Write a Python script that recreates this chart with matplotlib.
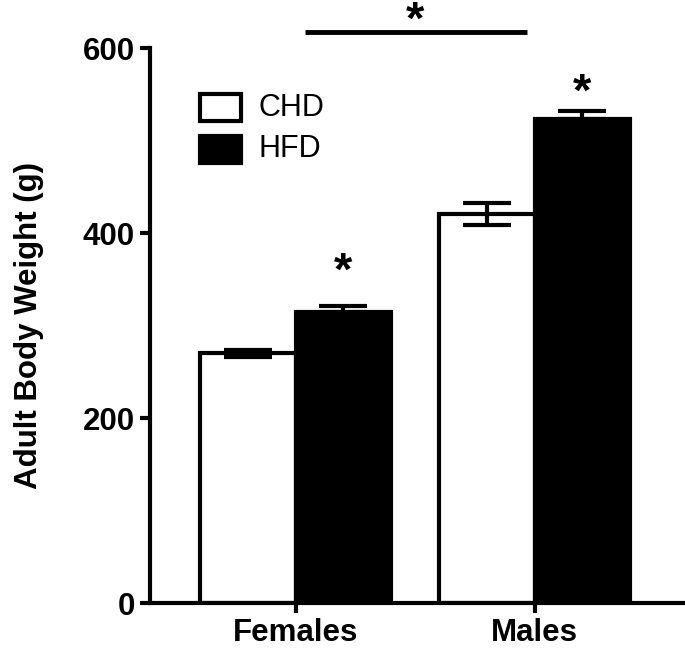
import matplotlib
matplotlib.use("Agg")
import matplotlib.pyplot as plt
from matplotlib.patches import Rectangle
import numpy as np

plt.rcParams['font.family'] = ['Liberation Sans', 'DejaVu Sans']

groups = ["Females", "Males"]
series = ["CHD", "HFD"]
chd_mean = [270, 421]
chd_err = [4, 12]
hfd_mean = [315, 523]
hfd_err = [6, 9]
yticks = [0, 200, 400, 600]
ylabel = "Adult Body Weight (g)"

fig = plt.figure(figsize=(6.85, 6.5), dpi=100)
ax = fig.add_axes([0.219, 0.0723, 0.781, 0.8537])

x = np.arange(len(groups))
w = 0.4
lw = 3.0

ax.bar(x - w / 2, chd_mean, width=w, color="white", edgecolor="black", linewidth=lw, zorder=2)
ax.bar(x + w / 2, hfd_mean, width=w, color="black", edgecolor="black", linewidth=lw, zorder=2)
ax.errorbar(x - w / 2, chd_mean, yerr=chd_err, fmt="none", ecolor="black",
            elinewidth=lw, capsize=17, capthick=lw, zorder=3)
ax.errorbar(x + w / 2, hfd_mean, yerr=[[0, 0], hfd_err], fmt="none", ecolor="black",
            elinewidth=lw, capsize=17, capthick=lw, zorder=3)

ax.set_xlim(-0.61, 1.63)
ax.set_ylim(0, 600)
ax.set_xticks(x)
ax.set_xticklabels(groups, fontsize=22.5, fontweight="bold")
ax.set_yticks(yticks)
ax.set_yticklabels([str(t) for t in yticks], fontsize=22.5, fontweight="bold")
ax.set_ylabel(ylabel, fontsize=22.5, fontweight="bold", labelpad=28)

for s in ["top", "right"]:
    ax.spines[s].set_visible(False)
for s in ["left", "bottom"]:
    ax.spines[s].set_linewidth(lw)
ax.tick_params(axis="both", length=7, width=lw, direction="out", pad=4)

# significance marks
ast_kw = dict(ha="center", va="center", fontsize=34, fontweight="bold", clip_on=False)
ax.text(x[0] + w / 2, 357, "*", **ast_kw)
ax.text(x[1] + w / 2, 551, "*", **ast_kw)
ax.plot([0.04, 0.97], [617, 617], color="black", lw=3.5, clip_on=False, solid_capstyle="butt")
ax.text(0.5, 629, "*", **ast_kw)

# legend
lx0, lx1 = -0.40, -0.228
ax.add_patch(Rectangle((lx0, 521), lx1 - lx0, 29, facecolor="white", edgecolor="black", linewidth=lw))
ax.add_patch(Rectangle((lx0, 476), lx1 - lx0, 29, facecolor="black", edgecolor="black", linewidth=lw))
ax.text(-0.155, 535.5, series[0], fontsize=22, va="center", ha="left")
ax.text(-0.155, 490.5, series[1], fontsize=22, va="center", ha="left")

fig.savefig("out.png", dpi=100)
